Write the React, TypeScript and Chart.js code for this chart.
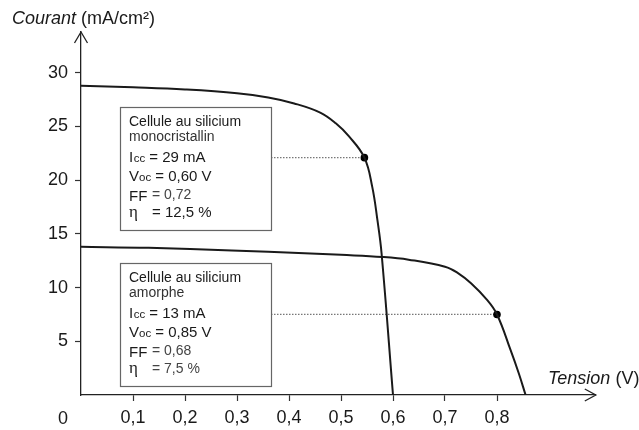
import React, { useEffect, useRef } from 'react';
import { Chart, registerables } from 'chart.js';

Chart.register(...registerables);

// ---- data ----
const monoV = [0, 0.1, 0.2, 0.3, 0.36, 0.41, 0.46, 0.49, 0.515, 0.545, 0.56, 0.57, 0.578, 0.6];
const monoI = [28.8, 28.65, 28.45, 28.1, 27.7, 27.15, 26.3, 25.3, 24.1, 22.1, 19.4, 16.3, 13.2, 0];
const amorV = [0, 0.13, 0.29, 0.43, 0.5, 0.58, 0.63, 0.7, 0.725, 0.75, 0.78, 0.8, 0.826, 0.842, 0.855];
const amorI = [13.8, 13.7, 13.45, 13.2, 13.05, 12.85, 12.6, 11.95, 11.35, 10.4, 8.9, 7.5, 4.2, 2.0, 0];
const mppV = [0.545, 0.8];
const mppI = [22.1, 7.5];

const xTicks = [0.1, 0.2, 0.3, 0.4, 0.5, 0.6, 0.7, 0.8];
const xTickLabels = ['0,1', '0,2', '0,3', '0,4', '0,5', '0,6', '0,7', '0,8'];
const yTicks = [5, 10, 15, 20, 25, 30];
const yTickLabels = ['5', '10', '15', '20', '25', '30'];

const boxTitle1 = ['Cellule au silicium', 'Cellule au silicium'];
const boxTitle2 = ['monocristallin', 'amorphe'];
const iccValues = ['29 mA', '13 mA'];
const vocValues = ['0,60 V', '0,85 V'];
const ffValues = ['0,72', '0,68'];
const etaValues = ['12,5 %', '7,5 %'];

// ---- styling / layout ----
const FONT = "'Liberation Sans', Arial, sans-serif";
const SERIF = "'Liberation Serif', 'DejaVu Serif', serif";
const INK = '#1a1a1a';
const AXIS = '#222';
const BOXES = [
  { x: 120, y: 107, w: 151, h: 123 },
  { x: 120, y: 263, w: 151, h: 123 },
];

const overlay = {
  id: 'overlay',
  beforeDatasetsDraw(chart: any) {
    const ctx = chart.ctx;
    const xs = chart.scales.x;
    const ys = chart.scales.y;
    ctx.save();
    ctx.strokeStyle = '#777';
    ctx.lineWidth = 1.2;
    ctx.setLineDash([1.5, 1.5]);
    mppV.forEach((v, i) => {
      const b = BOXES[i];
      const py = ys.getPixelForValue(mppI[i]);
      ctx.beginPath();
      ctx.moveTo(b.x + b.w, py);
      ctx.lineTo(xs.getPixelForValue(v), py);
      ctx.stroke();
    });
    ctx.restore();
  },
  afterDraw(chart: any) {
    const ctx = chart.ctx;
    const { left, top, right, bottom } = chart.chartArea;
    ctx.save();
    // arrow heads
    ctx.strokeStyle = AXIS;
    ctx.lineWidth = 1.3;
    ctx.beginPath();
    ctx.moveTo(left - 6.5, top + 11);
    ctx.lineTo(left, top);
    ctx.lineTo(left + 6.5, top + 11);
    ctx.stroke();
    ctx.beginPath();
    ctx.moveTo(right - 11, bottom - 6);
    ctx.lineTo(right, bottom);
    ctx.lineTo(right - 11, bottom + 6);
    ctx.stroke();

    // axis titles
    ctx.fillStyle = INK;
    ctx.textBaseline = 'alphabetic';
    ctx.textAlign = 'left';
    ctx.font = `italic 18px ${FONT}`;
    ctx.fillText('Courant', 12, 24);
    let w = ctx.measureText('Courant').width;
    ctx.font = `18px ${FONT}`;
    ctx.fillText(' (mA/cm²)', 12 + w, 24);

    ctx.font = `italic 18px ${FONT}`;
    ctx.fillText('Tension', 548, 384);
    w = ctx.measureText('Tension').width;
    ctx.font = `18px ${FONT}`;
    ctx.fillText(' (V)', 548 + w, 384);

    // origin label
    ctx.textAlign = 'center';
    ctx.fillText('0', 63, 424);
    ctx.textAlign = 'left';

    // info boxes
    BOXES.forEach((b, i) => {
      ctx.fillStyle = '#fff';
      ctx.fillRect(b.x, b.y, b.w, b.h);
      ctx.strokeStyle = '#666';
      ctx.lineWidth = 1.2;
      ctx.setLineDash([]);
      ctx.strokeRect(b.x + 0.5, b.y + 0.5, b.w, b.h);
      const tx = b.x + 9;
      ctx.fillStyle = INK;
      ctx.font = `14px ${FONT}`;
      ctx.fillText(boxTitle1[i], tx, b.y + 19);
      ctx.fillStyle = '#333';
      ctx.fillText(boxTitle2[i], tx, b.y + 34);
      ctx.fillStyle = INK;
      // Icc
      let bl = b.y + 54.5;
      ctx.font = `15px ${FONT}`;
      ctx.fillText('I', tx, bl);
      let cx = tx + ctx.measureText('I').width + 0.5;
      ctx.font = `11.5px ${FONT}`;
      ctx.fillText('cc', cx, bl);
      cx += ctx.measureText('cc').width;
      ctx.font = `15px ${FONT}`;
      ctx.fillText(' = ' + iccValues[i], cx, bl);
      // Voc
      bl = b.y + 73.5;
      ctx.fillText('V', tx, bl);
      cx = tx + ctx.measureText('V').width;
      ctx.font = `11.5px ${FONT}`;
      ctx.fillText('oc', cx, bl);
      cx += ctx.measureText('oc').width;
      ctx.font = `15px ${FONT}`;
      ctx.fillText(' = ' + vocValues[i], cx, bl);
      // FF
      bl = b.y + 93.5;
      ctx.fillText('FF', tx, bl);
      ctx.fillStyle = '#444';
      ctx.font = `14px ${FONT}`;
      ctx.fillText('= ' + ffValues[i], tx + 23, bl - 2);
      // eta
      bl = b.y + 110;
      ctx.fillStyle = INK;
      ctx.font = `17px ${SERIF}`;
      ctx.fillText('η', tx, bl);
      ctx.fillStyle = i === 0 ? INK : '#444';
      ctx.font = i === 0 ? `15px ${FONT}` : `14px ${FONT}`;
      ctx.fillText('= ' + etaValues[i], tx + 23, bl);
    });
    ctx.restore();
  },
};

export default function App() {
  const ref = useRef<HTMLCanvasElement | null>(null);

  useEffect(() => {
    if (!ref.current) return;
    const chart = new Chart(ref.current, {
      type: 'line',
      data: {
        datasets: [
          {
            label: 'monocristallin',
            data: monoV.map((v, i) => ({ x: v, y: monoI[i] })),
            borderColor: INK,
            borderWidth: 2,
            pointRadius: 0,
            tension: 0.4,
            fill: false,
          },
          {
            label: 'amorphe',
            data: amorV.map((v, i) => ({ x: v, y: amorI[i] })),
            borderColor: INK,
            borderWidth: 2,
            pointRadius: 0,
            tension: 0.4,
            fill: false,
          },
          {
            label: 'Pmax',
            data: mppV.map((v, i) => ({ x: v, y: mppI[i] })),
            showLine: false,
            pointRadius: 3.8,
            pointBackgroundColor: '#000',
            pointBorderColor: '#000',
            pointBorderWidth: 0,
          },
        ],
      },
      options: {
        responsive: false,
        animation: false,
        devicePixelRatio: 1,
        layout: { padding: { top: 32, right: 43.2, left: 0, bottom: 0 } },
        plugins: { legend: { display: false }, tooltip: { enabled: false } },
        scales: {
          x: {
            type: 'linear',
            min: 0,
            max: 0.99,
            afterFit: (s: any) => { s.height = 35; },
            afterBuildTicks: (s: any) => { s.ticks = xTicks.map((v) => ({ value: v })); },
            grid: {
              drawOnChartArea: false,
              drawTicks: true,
              tickLength: 6,
              tickColor: '#333',
              tickWidth: 1.2,
            },
            border: { display: true, color: AXIS, width: 1.3 },
            ticks: {
              autoSkip: false,
              maxRotation: 0,
              padding: 6,
              color: INK,
              font: { family: FONT, size: 18 },
              callback: (v: any) => {
                const k = xTicks.findIndex((t) => Math.abs(t - Number(v)) < 1e-6);
                return k >= 0 ? xTickLabels[k] : null;
              },
            },
          },
          y: {
            type: 'linear',
            min: 0,
            max: 33.8,
            afterFit: (s: any) => { s.width = 81; },
            afterBuildTicks: (s: any) => { s.ticks = yTicks.map((v) => ({ value: v })); },
            grid: {
              drawOnChartArea: false,
              drawTicks: true,
              tickLength: 6,
              tickColor: '#333',
              tickWidth: 1.2,
            },
            border: { display: true, color: AXIS, width: 1.3 },
            ticks: {
              padding: 7,
              color: INK,
              font: { family: FONT, size: 18 },
              callback: (v: any) => {
                const k = yTicks.indexOf(Number(v));
                return k >= 0 ? yTickLabels[k] : null;
              },
            },
          },
        },
      } as any,
      plugins: [overlay],
    });
    return () => chart.destroy();
  }, []);

  return (
    <div style={{ position: 'fixed', left: 0, top: 0, width: 639, height: 430, background: '#fff' }}>
      <canvas ref={ref} width={639} height={430} style={{ display: 'block' }} />
    </div>
  );
}
